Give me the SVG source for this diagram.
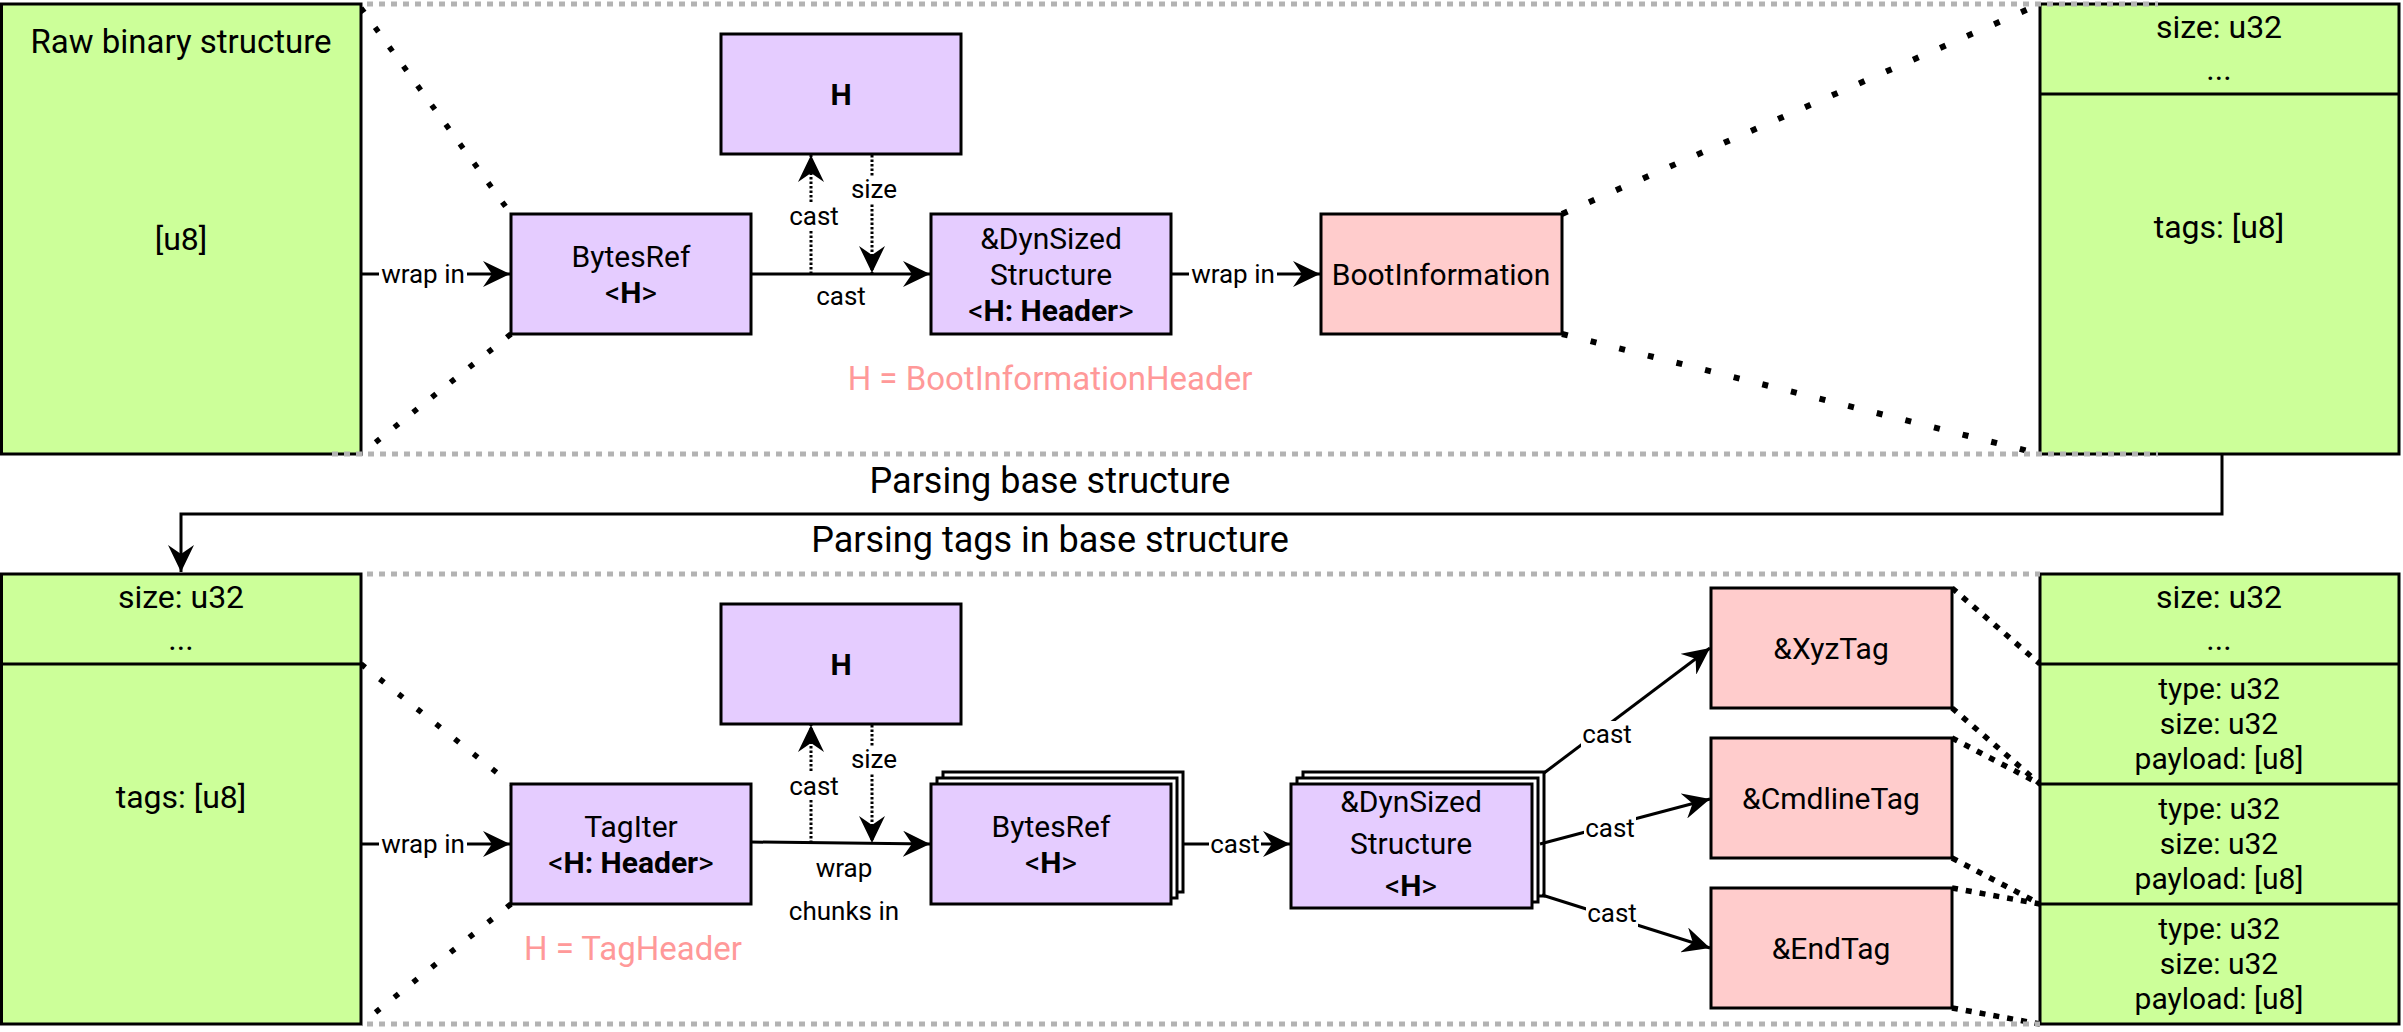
<svg xmlns="http://www.w3.org/2000/svg" width="2403" height="1032" viewBox="0 0 2403 1032">
<defs>
<style>
text{font-family:Roboto,"Liberation Sans",sans-serif;fill:#000;text-anchor:middle}
.g{fill:#CCFF99;stroke:#000;stroke-width:3}
.p{fill:#E5CCFF;stroke:#000;stroke-width:3}
.r{fill:#FFCCCC;stroke:#000;stroke-width:3}
.w{fill:#fff;stroke:#000;stroke-width:3}
.ln{fill:none;stroke:#000;stroke-width:3}
.edge{fill:none;stroke:#000;stroke-width:3;marker-end:url(#arr)}
.dot{fill:none;stroke:#000;stroke-width:3;stroke-dasharray:2.5 2;marker-end:url(#arr)}
.za{fill:none;stroke:#000;stroke-width:5.5;stroke-dasharray:5.5 18.5}
.zb{fill:none;stroke:#000;stroke-width:6;stroke-dasharray:6 23.5}
.zc{fill:none;stroke:#000;stroke-width:5.5;stroke-dasharray:6 8}
.gray{fill:none;stroke:#B3B3B3;stroke-width:5;stroke-dasharray:6 6}
.f36{font-size:36px}
.f33{font-size:33px}
.f32{font-size:32px}
.f30{font-size:30px}
.f26{font-size:26px}
.pk{fill:#FF9999}
.bg{fill:#fff;stroke:none}
.b{font-weight:bold}
</style>
<marker id="arr" markerUnits="userSpaceOnUse" markerWidth="28" markerHeight="26" viewBox="0 0 28 26" refX="27" refY="13" orient="auto">
<path d="M0,0 L27,13 L0,26 L9,13 Z" fill="#000"/>
</marker>
</defs>

<g id="zoom-lines">
<path class="za" d="M361,8 L511,214"/>
<path class="za" d="M511,334 L361,454"/>
<path class="zb" d="M1562,214 L2040,4"/>
<path class="zb" d="M1562,334 L2040,454"/>
<path class="za" d="M361,664 L511,784"/>
<path class="za" d="M511,904 L361,1024"/>
<path class="zc" d="M1952,588 L2040,664"/>
<path class="zc" d="M1952,708 L2040,784"/>
<path class="zc" d="M1952,738 L2040,784"/>
<path class="zc" d="M1952,858 L2040,904"/>
<path class="zc" d="M1952,888 L2040,904"/>
<path class="zc" d="M1952,1008 L2040,1024"/>
</g>

<g id="raw">
<rect class="g" x="1.5" y="4" width="359.5" height="450"/>
<text class="f33" x="181" y="53">Raw binary structure</text>
<text class="f32" x="181" y="250">[u8]</text>
</g>

<g id="bytesref-top">
<rect class="p" x="511" y="214" width="240" height="120"/>
<text class="f30" x="631" y="267">BytesRef</text>
<text class="f30" x="631" y="303">&lt;<tspan class="b">H</tspan>&gt;</text>
</g>

<g id="h-top">
<rect class="p" x="721" y="34" width="240" height="120"/>
<text class="f30 b" x="841" y="105">H</text>
</g>

<g id="dynsized-top">
<rect class="p" x="931" y="214" width="240" height="120"/>
<text class="f30" x="1051" y="249">&amp;DynSized</text>
<text class="f30" x="1051" y="285">Structure</text>
<text class="f30" x="1051" y="321">&lt;<tspan class="b">H: Header</tspan>&gt;</text>
</g>

<g id="bootinfo">
<rect class="r" x="1321" y="214" width="241" height="120"/>
<text class="f30" x="1441" y="285">BootInformation</text>
</g>

<g id="base-struct-top">
<rect class="g" x="2040" y="4" width="359" height="450"/>
<path class="ln" d="M2040,94 H2399"/>
<text class="f32" x="2219" y="38">size: u32</text>
<text class="f32" x="2219" y="80">...</text>
<text class="f32" x="2219" y="238">tags: [u8]</text>
</g>

<g id="note-top">
<text class="f33 pk" x="1050" y="390">H = BootInformationHeader</text>
</g>

<g id="base-struct-left">
<rect class="g" x="1.5" y="574" width="359.5" height="450"/>
<path class="ln" d="M1.5,664 H361"/>
<text class="f32" x="181" y="608">size: u32</text>
<text class="f32" x="181" y="650">...</text>
<text class="f32" x="181" y="808">tags: [u8]</text>
</g>

<g id="tagiter">
<rect class="p" x="511" y="784" width="240" height="120"/>
<text class="f30" x="631" y="837">TagIter</text>
<text class="f30" x="631" y="873">&lt;<tspan class="b">H: Header</tspan>&gt;</text>
</g>

<g id="h-bottom">
<rect class="p" x="721" y="604" width="240" height="120"/>
<text class="f30 b" x="841" y="675">H</text>
</g>

<g id="bytesref-stack">
<rect class="w" x="943" y="772" width="240" height="120"/>
<rect class="w" x="937" y="778" width="240" height="120"/>
<rect class="p" x="931" y="784" width="240" height="120"/>
<text class="f30" x="1051" y="837">BytesRef</text>
<text class="f30" x="1051" y="873">&lt;<tspan class="b">H</tspan>&gt;</text>
</g>

<g id="dynsized-stack">
<rect class="w" x="1303" y="772" width="241" height="124"/>
<rect class="w" x="1297" y="778" width="241" height="124"/>
<rect class="p" x="1291" y="784" width="241" height="124"/>
<text class="f30" x="1411" y="812">&amp;DynSized</text>
<text class="f30" x="1411" y="854">Structure</text>
<text class="f30" x="1411" y="896">&lt;<tspan class="b">H</tspan>&gt;</text>
</g>

<g id="xyztag">
<rect class="r" x="1711" y="588" width="241" height="120"/>
<text class="f30" x="1831" y="659">&amp;XyzTag</text>
</g>
<g id="cmdlinetag">
<rect class="r" x="1711" y="738" width="241" height="120"/>
<text class="f30" x="1831" y="809">&amp;CmdlineTag</text>
</g>
<g id="endtag">
<rect class="r" x="1711" y="888" width="241" height="120"/>
<text class="f30" x="1831" y="959">&amp;EndTag</text>
</g>

<g id="base-struct-right">
<rect class="g" x="2040" y="574" width="359" height="450"/>
<path class="ln" d="M2040,664 H2399 M2040,784 H2399 M2040,904 H2399"/>
<text class="f32" x="2219" y="608">size: u32</text>
<text class="f32" x="2219" y="650">...</text>
<text class="f30" x="2219" y="699">type: u32</text>
<text class="f30" x="2219" y="734">size: u32</text>
<text class="f30" x="2219" y="769">payload: [u8]</text>
<text class="f30" x="2219" y="819">type: u32</text>
<text class="f30" x="2219" y="854">size: u32</text>
<text class="f30" x="2219" y="889">payload: [u8]</text>
<text class="f30" x="2219" y="939">type: u32</text>
<text class="f30" x="2219" y="974">size: u32</text>
<text class="f30" x="2219" y="1009">payload: [u8]</text>
</g>

<g id="note-bottom">
<text class="f33 pk" x="633" y="960">H = TagHeader</text>
</g>

<g id="section-borders">
<path class="gray" d="M367,4 H2158"/>
<path class="gray" d="M332,454 H2158"/>
<path class="gray" d="M367,574 H2040"/>
<path class="gray" d="M367,1024 H2040"/>
</g>

<g id="connectors">
<path class="edge" d="M361,274 H510"/>
<rect class="bg" x="379" y="258" width="88" height="32"/>
<text class="f26" x="423" y="283">wrap in</text>

<path class="edge" d="M751,274 H930"/>
<text class="f26" x="841" y="305">cast</text>

<path class="dot" d="M811,274 V155"/>
<rect class="bg" x="788" y="203" width="52" height="26"/>
<text class="f26" x="814" y="225">cast</text>

<path class="dot" d="M872,155 V273"/>
<rect class="bg" x="849" y="176" width="50" height="28"/>
<text class="f26" x="874" y="198">size</text>

<path class="edge" d="M1171,274 H1320"/>
<rect class="bg" x="1189" y="258" width="88" height="32"/>
<text class="f26" x="1233" y="283">wrap in</text>

<path class="edge" d="M2222,454 V514 H181 V572"/>
<text class="f36" x="1050" y="493">Parsing base structure</text>
<text class="f36" x="1050" y="552">Parsing tags in base structure</text>

<path class="edge" d="M361,844 H510"/>
<rect class="bg" x="379" y="828" width="88" height="32"/>
<text class="f26" x="423" y="853">wrap in</text>

<path class="edge" d="M751,842 L930,844"/>
<text class="f26" x="844" y="877">wrap</text>
<text class="f26" x="844" y="920">chunks in</text>

<path class="dot" d="M811,843 V725"/>
<rect class="bg" x="788" y="773" width="52" height="26"/>
<text class="f26" x="814" y="795">cast</text>

<path class="dot" d="M872,725 V843"/>
<rect class="bg" x="849" y="746" width="50" height="28"/>
<text class="f26" x="874" y="768">size</text>

<path class="edge" d="M1183,844 H1290"/>
<rect class="bg" x="1209" y="830" width="52" height="26"/>
<text class="f26" x="1235" y="853">cast</text>

<path class="edge" d="M1544,773 L1710,648"/>
<rect class="bg" x="1581" y="721" width="52" height="27"/>
<text class="f26" x="1607" y="743">cast</text>

<path class="edge" d="M1540,844 L1710,799"/>
<rect class="bg" x="1584" y="815" width="52" height="27"/>
<text class="f26" x="1610" y="837">cast</text>

<path class="edge" d="M1542,895 L1710,948"/>
<rect class="bg" x="1586" y="900" width="52" height="27"/>
<text class="f26" x="1612" y="922">cast</text>
</g>
</svg>
